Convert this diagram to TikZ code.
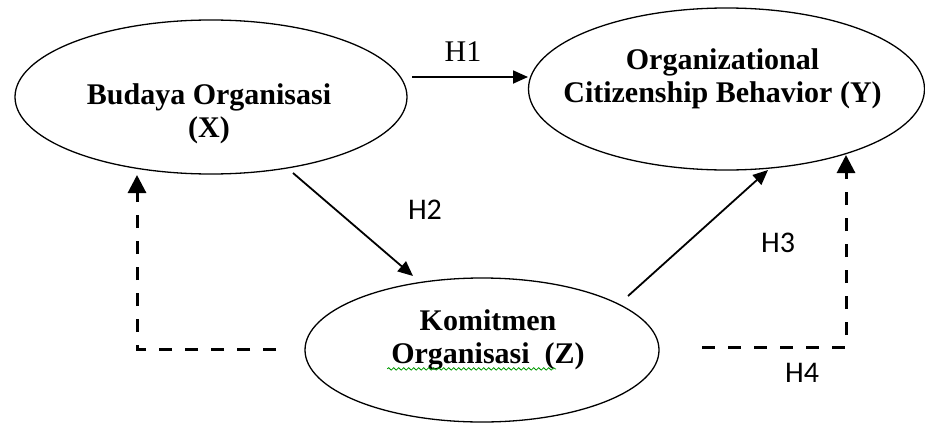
\documentclass[tikz,border=0pt]{standalone}
\usepackage{fontspec}
\setmainfont{Liberation Serif}
\newfontfamily\hlabelfont{Carlito}
\usetikzlibrary{arrows.meta,shapes.geometric,calc,decorations.pathmorphing}
\begin{document}
\begin{tikzpicture}[x=1pt,y=-1pt,
  oval/.style={draw, ellipse, line width=1.3pt, inner sep=0pt},
  vartext/.style={font=\bfseries\fontsize{30}{33}\selectfont, align=center, inner sep=0pt},
  solidarrow/.style={line width=1.8pt, -{Triangle[length=15pt,width=13pt]}},
  dasharrow/.style={line width=3pt, dash pattern=on 13pt off 13pt, -{Triangle[length=18pt,width=18pt]}},
  hypserif/.style={font=\fontsize{30}{36}\selectfont, inner sep=0pt},
  hypsans/.style={font=\hlabelfont\fontsize{30}{36}\selectfont, inner sep=0pt},
  squiggle/.style={draw=green!60!black, line width=0.8pt, decorate, decoration={snake, amplitude=1.2pt, segment length=5pt}}]
\useasboundingbox (0,0) rectangle (925,423);

% variables
\node[oval, minimum width=392pt, minimum height=154pt] (X) at (211,97) {};
\node[oval, minimum width=396pt, minimum height=162pt] (Y) at (726.5,89) {};
\node[oval, minimum width=354pt, minimum height=144pt] (Z) at (482,350) {};

\node[vartext] (Xt) at (209,113.5) {Budaya Organisasi\\(X)};
\node[vartext] (Yt) at (722.5,79) {Organizational\\Citizenship Behavior (Y)};
\node[vartext] (Zt) at (488,340) {Komitmen\\Organisasi\ \ (Z)};

\draw[squiggle] ($(Zt.south west)+(-4,-1.5)$) -- ($(Zt.south west)+(165,-1.5)$);

% hypotheses
\draw[solidarrow] ($(X)+(201,-20)$) -- ($(Y)+(-198.5,-12)$);
\node[hypserif] (h1) at (463,52) {H1};

\draw[solidarrow] ($(X)+(82,76)$) -- ($(Z)+(-69,-74)$);
\node[hypsans] (h2) at (425,210) {H2};

\draw[solidarrow] ($(Z)+(146,-54)$) -- ($(Y)+(41.5,81)$);
\node[hypsans] (h3) at (778,243) {H3};

\draw[dasharrow] ($(Z)+(220,-3)$) -| ($(Y)+(119.5,66)$);
\node[hypsans] (h4) at (802,373) {H4};

\draw[dasharrow] ($(Z)+(-206,-1)$) -| ($(X)+(-74,78)$);
\end{tikzpicture}
\end{document}
